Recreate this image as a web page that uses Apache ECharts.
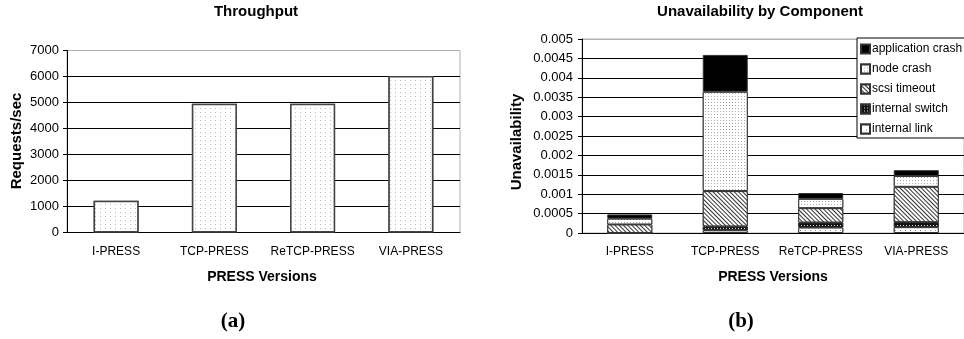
<!DOCTYPE html>
<html>
<head>
<meta charset="utf-8">
<script src="https://cdn.jsdelivr.net/npm/echarts@6/dist/echarts.min.js"></script>
<style>
html,body{margin:0;padding:0;background:#fff;}
#c{width:964px;height:339px;}
</style>
</head>
<body>
<div id="c"></div>
<script>
// ---- data ----
const categories = ['I-PRESS', 'TCP-PRESS', 'ReTCP-PRESS', 'VIA-PRESS'];
const throughput = [1220, 4950, 4950, 6020];
const throughputTicks = [0, 1000, 2000, 3000, 4000, 5000, 6000, 7000];

const internalLink = [0, 0.00007, 0.00014, 0.00015];
const internalSwitch = [0, 0.0001, 0.00013, 0.00013];
const scsiTimeout = [0.00022, 0.00091, 0.00037, 0.00091];
const nodeCrash = [0.00015, 0.00256, 0.00024, 0.00028];
const applicationCrash = [0.00011, 0.00095, 0.00015, 0.00015];
const componentNames = ['internal link', 'internal switch', 'scsi timeout', 'node crash', 'application crash'];
const unavailTicks = [0, 0.0005, 0.001, 0.0015, 0.002, 0.0025, 0.003, 0.0035, 0.004, 0.0045, 0.005];

// ---- chart ----
const FONT = 'Liberation Sans, Arial, sans-serif';
const chart = echarts.init(document.getElementById('c'), null, {renderer: 'canvas'});

const leftGrid = {left: 67, top: 50.5, width: 393, height: 182, show: true, borderColor: '#b0b0b0', borderWidth: 1, backgroundColor: 'transparent'};
const rightGrid = {left: 582, top: 39, width: 386, height: 194, show: true, borderColor: '#b0b0b0', borderWidth: 1, backgroundColor: 'transparent'};

function splitColors(n) { const a = []; for (let i = 0; i < n - 1; i++) a.push('#000'); a.push('#b0b0b0'); return a; }

const patterns = {
  'internal link': {color: '#fff', decal: {symbol: 'rect', symbolSize: 1, color: '#888', backgroundColor: '#fff', dashArrayX: [1, 4], dashArrayY: [1, 4]}},
  'internal switch': {color: '#111', decal: {symbol: 'rect', symbolSize: 1, color: '#ddd', backgroundColor: '#111', dashArrayX: [1, 2], dashArrayY: [1, 2]}},
  'scsi timeout': {color: '#fff', decal: {symbol: 'rect', symbolSize: 1, color: '#333', backgroundColor: '#fff', dashArrayX: [1, 0], dashArrayY: [1, 1.5], rotation: Math.PI / 4}},
  'node crash': {color: '#fff', decal: {symbol: 'rect', symbolSize: 1, color: '#aaa', backgroundColor: '#fff', dashArrayX: [1, 2], dashArrayY: [1, 2]}},
  'application crash': {color: '#000'}
};
const compData = {
  'internal link': internalLink,
  'internal switch': internalSwitch,
  'scsi timeout': scsiTimeout,
  'node crash': nodeCrash,
  'application crash': applicationCrash
};

const stackSeries = componentNames.map(name => ({
  name: name,
  type: 'bar',
  stack: 'u',
  xAxisIndex: 1,
  yAxisIndex: 1,
  barWidth: 45,
  data: compData[name],
  itemStyle: Object.assign({borderColor: '#333', borderWidth: 1}, patterns[name]),
  emphasis: {disabled: true}
}));

const catLabel = {color: '#000', fontSize: 12, fontFamily: FONT, margin: 13, interval: 0};

const option = {
  animation: false,
  backgroundColor: '#fff',
  textStyle: {fontFamily: FONT},
  grid: [leftGrid, rightGrid],
  legend: {
    data: componentNames.slice().reverse(),
    orient: 'vertical',
    left: 857,
    top: 38,
    padding: [5, 40, 3, 3],
    itemWidth: 9,
    itemHeight: 9,
    itemGap: 8,
    borderColor: '#000',
    borderWidth: 1,
    backgroundColor: '#fff',
    icon: 'rect',
    textStyle: {fontFamily: FONT, fontSize: 12, color: '#000', padding: [0, 0, 0, -3]},
    selectedMode: false
  },
  xAxis: [
    {type: 'category', gridIndex: 0, data: categories, axisTick: {show: false},
     axisLine: {lineStyle: {color: '#000', width: 1}}, axisLabel: catLabel},
    {type: 'category', gridIndex: 1, data: categories, axisTick: {show: false},
     axisLine: {lineStyle: {color: '#000', width: 1}}, axisLabel: catLabel}
  ],
  yAxis: [
    {type: 'value', gridIndex: 0, min: throughputTicks[0], max: throughputTicks[throughputTicks.length - 1], interval: 1000,
     axisLine: {show: true, lineStyle: {color: '#000'}},
     axisTick: {show: true, length: 4, lineStyle: {color: '#000'}},
     axisLabel: {color: '#000', fontSize: 13, fontFamily: FONT, margin: 8, formatter: v => String(v)},
     splitLine: {show: true, lineStyle: {color: splitColors(throughputTicks.length), width: 1}}},
    {type: 'value', gridIndex: 1, min: unavailTicks[0], max: unavailTicks[unavailTicks.length - 1], interval: 0.0005,
     axisLine: {show: true, lineStyle: {color: '#000'}},
     axisTick: {show: true, length: 4, lineStyle: {color: '#000'}},
     axisLabel: {color: '#000', fontSize: 13, fontFamily: FONT, margin: 9,
       formatter: v => String(parseFloat(v.toFixed(6)))},
     splitLine: {show: true, lineStyle: {color: splitColors(unavailTicks.length), width: 1}}}
  ],
  series: [
    {name: 'Throughput', type: 'bar', xAxisIndex: 0, yAxisIndex: 0, barWidth: 45, data: throughput,
     itemStyle: {color: '#fff', borderColor: '#444', borderWidth: 1.5,
       decal: {symbol: 'rect', symbolSize: 1, color: '#bbb', backgroundColor: '#fff', dashArrayX: [1, 4], dashArrayY: [1, 3]}},
     emphasis: {disabled: true}}
  ].concat(stackSeries),
  graphic: [
    {type: 'text', x: 256, y: 12, style: {text: 'Throughput', font: 'bold 15px ' + FONT, fill: '#000', textAlign: 'center', textVerticalAlign: 'middle'}},
    {type: 'text', x: 760, y: 12, style: {text: 'Unavailability by Component', font: 'bold 15px ' + FONT, fill: '#000', textAlign: 'center', textVerticalAlign: 'middle'}},
    {type: 'text', x: 17, y: 141, rotation: Math.PI / 2, style: {text: 'Requests/sec', font: 'bold 15px ' + FONT, fill: '#000', textAlign: 'center', textVerticalAlign: 'middle'}},
    {type: 'text', x: 517, y: 142, rotation: Math.PI / 2, style: {text: 'Unavailability', font: 'bold 15px ' + FONT, fill: '#000', textAlign: 'center', textVerticalAlign: 'middle'}},
    {type: 'text', x: 262, y: 277, style: {text: 'PRESS Versions', font: 'bold 14px ' + FONT, fill: '#000', textAlign: 'center', textVerticalAlign: 'middle'}},
    {type: 'text', x: 773, y: 277, style: {text: 'PRESS Versions', font: 'bold 14px ' + FONT, fill: '#000', textAlign: 'center', textVerticalAlign: 'middle'}},
    {type: 'text', x: 233, y: 322, style: {text: '(a)', font: 'bold 21px Liberation Serif, Times New Roman, serif', fill: '#000', textAlign: 'center', textVerticalAlign: 'middle'}},
    {type: 'text', x: 741, y: 322, style: {text: '(b)', font: 'bold 21px Liberation Serif, Times New Roman, serif', fill: '#000', textAlign: 'center', textVerticalAlign: 'middle'}}
  ]
};
chart.setOption(option);
</script>
</body>
</html>
